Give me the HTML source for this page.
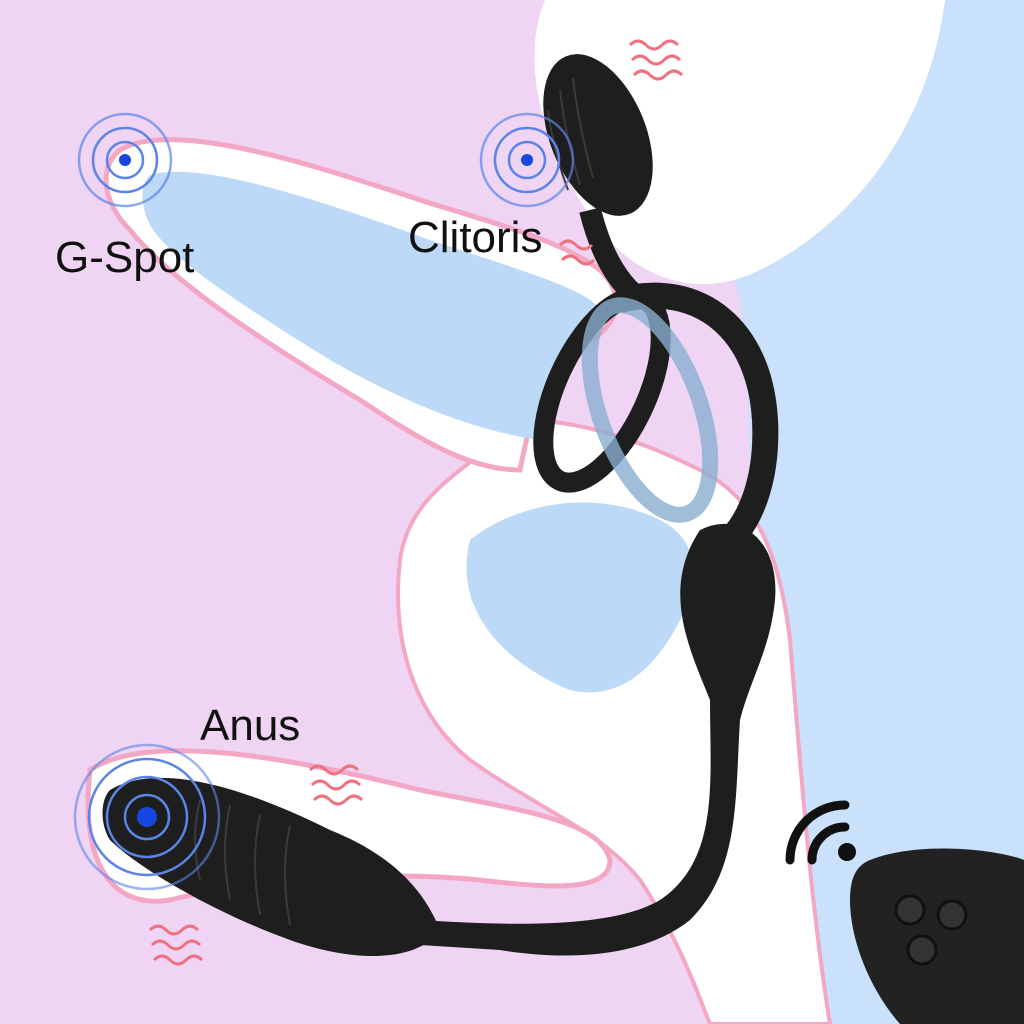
<!DOCTYPE html>
<html><head><meta charset="utf-8"><style>
html,body{margin:0;padding:0;width:1024px;height:1024px;overflow:hidden;background:#efd4f4}
svg{display:block}
text{font-family:"Liberation Sans",sans-serif;fill:#111}
</style></head><body>
<svg width="1024" height="1024" viewBox="0 0 1024 1024" xmlns="http://www.w3.org/2000/svg">
<rect width="1024" height="1024" fill="#efd4f4"/>
<path d="M560 0 L1024 0 L1024 1024 L820 1024 C800 900 790 700 760 560 C740 450 760 300 720 250 Z" fill="#c9e1fb"/>
<path d="M545 0 L945 0 C930 120 860 220 760 270 C700 300 640 280 600 230 C540 150 520 60 545 0 Z" fill="#fff"/>
<path d="M520 420 C470 470 410 490 400 560 C390 650 420 720 470 760 C540 810 600 830 640 880 C680 940 700 1000 710 1024 L830 1024 C810 900 800 760 790 640 C780 560 760 500 700 470 C640 440 580 420 520 420 Z" fill="#fff" stroke="#f3a7c4" stroke-width="4"/>
<path d="M120 150 C170 120 300 160 420 200 C500 225 560 240 600 270 C640 310 600 340 560 360 C540 380 530 420 520 470 C470 470 420 440 360 400 C260 340 170 280 130 230 C100 200 100 165 120 150 Z" fill="#fff" stroke="#f3a7c4" stroke-width="5"/>
<path d="M150 175 C200 160 320 200 430 240 C520 270 590 290 600 310 C590 330 560 360 540 440 C470 430 400 400 330 360 C250 310 170 260 150 225 C140 205 140 185 150 175 Z" fill="#bcdaf8"/>
<path d="M470 540 C520 500 600 490 660 520 C700 540 700 580 680 620 C650 680 610 700 570 690 C520 670 450 620 470 540 Z" fill="#bcdaf8"/>
<path d="M90 770 C150 730 300 760 420 790 C520 810 600 820 610 860 C610 890 560 890 480 880 C380 870 250 880 170 900 C110 910 80 860 90 770 Z" fill="#fff" stroke="#f3a7c4" stroke-width="5"/>
<!-- clit head -->
<ellipse cx="598" cy="135" rx="48" ry="85" transform="rotate(-22 598 135)" fill="#1e1e1e"/>
<path d="M590 210 C600 250 615 280 640 300" fill="none" stroke="#1e1e1e" stroke-width="22"/>
<g stroke="#3a3a3a" stroke-width="2" fill="none">
<path d="M548 110 q5 40 20 80"/><path d="M560 90 q5 45 20 95"/><path d="M573 78 q5 45 20 100"/>
</g>
<path d="M620 300 C700 280 760 330 765 420 C768 480 750 520 730 540" fill="none" stroke="#1e1e1e" stroke-width="26"/>
<ellipse cx="602" cy="390" rx="45" ry="100" transform="rotate(25 602 390)" fill="none" stroke="#1e1e1e" stroke-width="20"/>
<ellipse cx="650" cy="410" rx="50" ry="110" transform="rotate(-20 650 410)" fill="none" stroke="#8aaed0" stroke-width="16" opacity=".8"/>
<path d="M700 530 C740 510 780 540 775 600 C770 650 750 680 740 720 C735 800 740 870 690 920 C640 960 560 960 500 950 L420 945 L420 920 C500 925 610 930 660 900 C720 860 710 780 710 700 C690 650 660 590 700 530 Z" fill="#1e1e1e"/>
<path d="M110 790 C160 760 250 790 330 830 C380 850 420 880 440 930 C420 960 360 965 290 940 C220 915 140 870 110 840 C100 825 100 800 110 790 Z" fill="#1e1e1e"/>
<g stroke="#3a3a3a" stroke-width="2" fill="none">
<path d="M200 800 q-10 40 0 80"/><path d="M230 805 q-10 45 0 95"/><path d="M260 815 q-10 45 0 100"/><path d="M290 825 q-10 45 0 100"/>
</g>
<g fill="none" stroke="#5b84e6" stroke-width="2.5">
<circle cx="125" cy="160" r="18"/><circle cx="125" cy="160" r="32"/><circle cx="125" cy="160" r="46" opacity=".7"/>
<circle cx="527" cy="160" r="18"/><circle cx="527" cy="160" r="32"/><circle cx="527" cy="160" r="46" opacity=".7"/>
<circle cx="147" cy="817" r="22"/><circle cx="147" cy="817" r="40"/><circle cx="147" cy="817" r="58"/><circle cx="147" cy="817" r="72" opacity=".6"/>
</g>
<circle cx="125" cy="160" r="6" fill="#1747e0"/>
<circle cx="527" cy="160" r="6" fill="#1747e0"/>
<circle cx="147" cy="817" r="10" fill="#1747e0"/>
<g fill="none" stroke="#f07080" stroke-width="3">
<path d="M630 45 q8 -8 16 0 t16 0 t16 0"/><path d="M632 60 q8 -8 16 0 t16 0 t16 0"/><path d="M634 75 q8 -8 16 0 t16 0 t16 0"/>
<path d="M310 770 q8 -8 16 0 t16 0 t16 0"/><path d="M312 785 q8 -8 16 0 t16 0 t16 0"/><path d="M314 800 q8 -8 16 0 t16 0 t16 0"/>
<path d="M150 930 q8 -8 16 0 t16 0 t16 0"/><path d="M152 945 q8 -8 16 0 t16 0 t16 0"/><path d="M154 960 q8 -8 16 0 t16 0 t16 0"/>
<path d="M560 245 q8 -8 16 0 t16 0"/><path d="M562 260 q8 -8 16 0 t16 0"/>
</g>
<g fill="none" stroke="#111" stroke-width="9" stroke-linecap="round">
<path d="M790 860 a55 55 0 0 1 55 -55"/><path d="M812 860 a33 33 0 0 1 33 -33"/>
</g>
<circle cx="847" cy="852" r="9" fill="#111"/>
<path d="M870 860 C920 840 1000 850 1024 860 L1024 1024 L900 1024 C870 990 850 940 850 900 C850 880 855 866 870 860 Z" fill="#222"/>
<circle cx="910" cy="910" r="14" fill="#333" stroke="#111" stroke-width="3"/>
<circle cx="952" cy="915" r="14" fill="#333" stroke="#111" stroke-width="3"/>
<circle cx="922" cy="950" r="14" fill="#333" stroke="#111" stroke-width="3"/>
<text x="55" y="272" font-size="44">G-Spot</text>
<text x="408" y="252" font-size="44">Clitoris</text>
<text x="200" y="740" font-size="44">Anus</text>
</svg>
</body></html>
